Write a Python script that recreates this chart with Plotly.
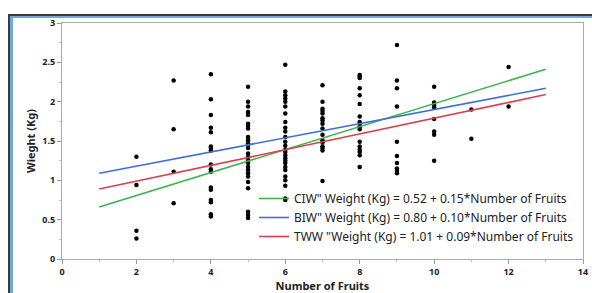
import plotly.graph_objects as go

# ---- data ----
fruit_counts = [2, 3, 4, 5, 6, 7, 8, 9, 10, 11, 12]
weights_at_2 = [1.30, 0.94, 0.36, 0.26]
weights_at_3 = [2.27, 1.65, 1.11, 0.71]
weights_at_4 = [2.35, 2.03, 1.83, 1.67, 1.61, 1.43, 1.41, 1.38, 1.20, 1.14, 1.11,
                0.91, 0.88, 0.75, 0.72, 0.57, 0.54]
weights_at_5 = [2.19, 2.00, 1.94, 1.87, 1.83, 1.72, 1.69, 1.66, 1.55, 1.51, 1.47,
                1.45, 1.41, 1.34, 1.30, 1.26, 1.22, 1.17, 1.13, 1.09, 1.05, 0.98,
                0.90, 0.60, 0.56, 0.52]
weights_at_6 = [2.47, 2.13, 2.08, 2.04, 2.00, 1.94, 1.85, 1.74, 1.67, 1.62, 1.55,
                1.49, 1.44, 1.39, 1.36, 1.32, 1.28, 1.25, 1.22, 1.17, 1.13, 1.05,
                1.00, 0.93, 0.77, 0.75]
weights_at_7 = [2.21, 2.00, 1.91, 1.88, 1.85, 1.79, 1.76, 1.72, 1.66, 1.58, 1.51,
                1.48, 1.43, 1.41, 1.38, 0.99]
weights_at_8 = [2.34, 2.32, 2.30, 2.17, 2.08, 1.97, 1.81, 1.74, 1.72, 1.68, 1.65,
                1.49, 1.43, 1.39, 1.36, 1.32, 1.17]
weights_at_9 = [2.72, 2.27, 2.17, 1.94, 1.49, 1.31, 1.22, 1.15, 1.12, 1.09]
weights_at_10 = [2.19, 1.99, 1.96, 1.93, 1.78, 1.62, 1.58, 1.25]
weights_at_11 = [1.90, 1.53]
weights_at_12 = [2.44, 1.94]

fit_names = ['CIW" Weight (Kg) = 0.52 + 0.15*Number of Fruits',
             'BIW" Weight (Kg) = 0.80 + 0.10*Number of Fruits',
             'TWW "Weight (Kg) = 1.01 + 0.09*Number of Fruits']
fit_intercepts = [0.515, 1.00, 0.79]
fit_slopes = [0.146, 0.09, 0.10]
fit_x_range = [1, 13]
fit_colors = ["#3fb34a", "#3f6fd8", "#d8404f"]

x_ticks = [0, 2, 4, 6, 8, 10, 12, 14]
y_ticks = [0, 0.5, 1, 1.5, 2, 2.5, 3]

# ---- build ----
all_weights = [weights_at_2, weights_at_3, weights_at_4, weights_at_5, weights_at_6,
               weights_at_7, weights_at_8, weights_at_9, weights_at_10,
               weights_at_11, weights_at_12]
xs, ys = [], []
for n, ws in zip(fruit_counts, all_weights):
    xs += [n] * len(ws)
    ys += ws

fig = go.Figure()
fig.add_trace(go.Scatter(x=xs, y=ys, mode="markers",
                         marker=dict(color="black", size=4.5),
                         showlegend=False))
for name, b0, b1, col in zip(fit_names, fit_intercepts, fit_slopes, fit_colors):
    fig.add_trace(go.Scatter(x=fit_x_range, y=[b0 + b1 * v for v in fit_x_range],
                             mode="lines", name=name,
                             line=dict(color=col, width=1.6)))

W, H = 592, 293
PL, PR, PT, PB = 62, 583, 23, 259          # plot area in page pixels
L, T = PL, PT
R, B = W - PR, H - PB


def px(xp):
    return (xp - PL) / (PR - PL)


def py(yp):
    return (PB - yp) / (PB - PT)


axis_font = dict(family="Noto Sans", size=9, color="#222")
fig.update_layout(
    width=W, height=H,
    margin=dict(l=L, r=R, t=T, b=B, pad=0, autoexpand=False),
    paper_bgcolor="white", plot_bgcolor="white",
    font=dict(family="Noto Sans", color="#222"),
    xaxis=dict(range=[0, 14], tickvals=x_ticks, ticktext=[f"<b>{v}</b>" for v in x_ticks],
               ticks="outside", ticklen=4, tickcolor="#999", showgrid=False,
               zeroline=False, showline=True, linecolor="#aaa", mirror=True,
               tickfont=axis_font, automargin=False,
               minor=dict(dtick=1, ticks="outside", ticklen=2, tickcolor="#bbb"),
               title=dict(text="<b>Number of Fruits</b>", font=dict(size=11, color="#222"),
                          standoff=0)),
    yaxis=dict(range=[0, 3], tickvals=y_ticks, ticktext=[f"<b>{v}</b>" for v in y_ticks],
               ticks="outside", ticklen=4, tickcolor="#999", showgrid=False,
               zeroline=False, showline=True, linecolor="#aaa", mirror=True,
               tickfont=axis_font, automargin=False,
               minor=dict(dtick=0.25, ticks="outside", ticklen=2, tickcolor="#bbb"),
               title=dict(text="<b>Wieght (Kg)</b>", font=dict(size=11, color="#222"),
                          standoff=4)),
    legend=dict(x=px(254), y=py(184), xanchor="left", yanchor="top",
                bgcolor="rgba(0,0,0,0)", font=dict(family="Noto Sans", size=12, color="#222"),
                tracegroupgap=0, itemwidth=30),
    shapes=[
        dict(type="line", xref="paper", yref="paper", x0=px(8), x1=px(600), y0=py(15), y1=py(15),
             line=dict(color="#3c3c3c", width=2)),
        dict(type="line", xref="paper", yref="paper", x0=px(10), x1=px(600), y0=py(17), y1=py(17),
             line=dict(color="#6fa8dc", width=2)),
        dict(type="line", xref="paper", yref="paper", x0=px(9), x1=px(9), y0=py(14), y1=py(300),
             line=dict(color="#3c3c3c", width=2)),
        dict(type="line", xref="paper", yref="paper", x0=px(11.5), x1=px(11.5), y0=py(16), y1=py(300),
             line=dict(color="#6fa8dc", width=3)),
    ],
)

fig.write_html(
    "out.html",
    config={"displayModeBar": False},
    post_script="document.body.style.margin='0';document.body.style.overflow='hidden';",
)
